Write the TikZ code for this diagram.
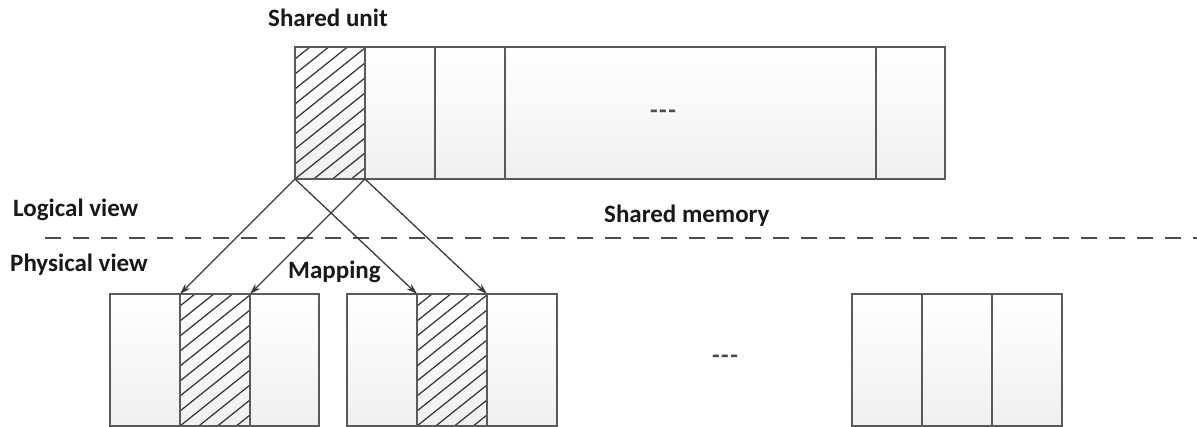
\documentclass[tikz,border=0pt]{standalone}
\usepackage{fontspec}
\newfontfamily\lab{Carlito}
\usetikzlibrary{arrows.meta}
\definecolor{cellline}{HTML}{5A5A5A}
\definecolor{arrowcol}{HTML}{3A3A3A}
\definecolor{hatchcol}{HTML}{383838}
\begin{document}
\begin{tikzpicture}[x=1pt,y=-1pt,
  cell/.style={draw=cellline, line width=1.4pt, top color=white, bottom color=black!6,
    minimum width=70pt, minimum height=132pt, inner sep=0pt, outer sep=0pt, anchor=north west},
  hatched/.style={path picture={
      \foreach \k in {-90,-75,...,165}{
        \draw[hatchcol, line width=1.25pt] ([yshift=\k pt]path picture bounding box.south west) -- ++(90pt,72pt);}}},
  lbl/.style={font=\lab\bfseries\fontsize{25}{30}\selectfont, text=black!90, inner sep=0pt, anchor=base west},
  dots/.style={font=\lab\bfseries\fontsize{25}{30}\selectfont, text=black!70, inner sep=0pt},
  maparrow/.style={draw=arrowcol, line width=1.3pt, -{Stealth[length=11pt,width=7pt]}},
  divider/.style={draw=black!70, line width=1.9pt, dash pattern=on 16pt off 12pt}
]
\useasboundingbox (0,0) rectangle (1197,427);

% top row: shared unit
\node[cell, hatched] (c1) at (295,47) {};
\node[cell] (c2) at (365,47) {};
\node[cell] (c3) at (435,47) {};
\node[cell, minimum width=371pt] (c4) at (505,47) {};
\node[cell, minimum width=69pt] (c5) at (876,47) {};
\node[dots] (d1) at (663,114) {-\hspace{1.5pt}-\hspace{1.5pt}-};

% bottom rows
\node[cell] (b11) at (110,294) {};
\node[cell, hatched] (b12) at (180,294) {};
\node[cell, minimum width=69pt] (b13) at (250,294) {};

\node[cell] (b21) at (347,294) {};
\node[cell, hatched] (b22) at (417,294) {};
\node[cell] (b23) at (487,294) {};

\node[cell] (b31) at (852,294) {};
\node[cell] (b32) at (922,294) {};
\node[cell] (b33) at (992,294) {};
\node[dots] (d2) at (725,359) {-\hspace{1.5pt}-\hspace{1.5pt}-};

% divider
\coordinate (dl) at (45,238);
\coordinate (dr) at (1197,238);
\draw[divider] (dl) -- (dr);

% labels
\node[lbl] (su) at (268,27) {Shared unit};
\node[lbl] (lv) at (13,217) {Logical view};
\node[lbl] (pv) at (10,272) {Physical view};
\node[lbl] (sm) at (604,223) {Shared memory};
\node[lbl] (mp) at (288,279) {Mapping};

% mapping arrows
\draw[maparrow] (c1.south west) -- (b12.north west);
\draw[maparrow] (c1.south west) -- (b22.north west);
\draw[maparrow] (c1.south east) -- (b13.north west);
\draw[maparrow] (c1.south east) -- (b23.north west);
\end{tikzpicture}
\end{document}
